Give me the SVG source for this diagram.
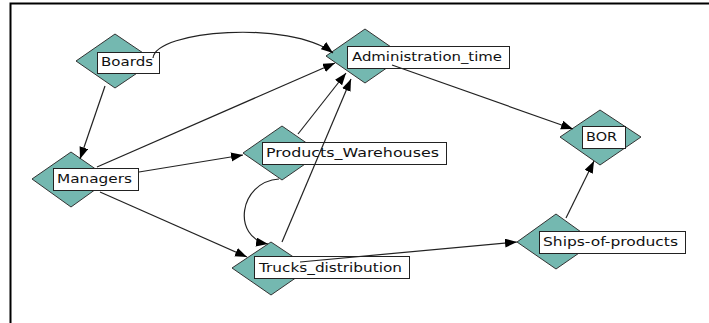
<svg xmlns="http://www.w3.org/2000/svg" width="709" height="323" viewBox="0 0 709 323">
<style>
.dia{fill:#74b8b0;stroke:#333;stroke-width:1}
.lbl{fill:#fff;stroke:#222;stroke-width:1}
.txt{font-family:"DejaVu Sans",Verdana,sans-serif;font-size:13px;fill:#111}
.edge{fill:none;stroke:#222;stroke-width:1.2}
</style>
<defs>
<marker id="arr" markerUnits="userSpaceOnUse" markerWidth="13" markerHeight="10" refX="12" refY="4.5" orient="auto">
<path d="M0,0 L12,4.5 L0,9 z" fill="#000"/>
</marker>
</defs>
<rect x="0" y="0" width="709" height="323" fill="#fff"/>
<path d="M10.5,323 L10.5,3.5 L709,3.5" fill="none" stroke="#000" stroke-width="2"/>

<g id="Boards">
<polygon class="dia" points="115,34 155,61 115,88 76,61"/>
<rect class="lbl" x="97.5" y="52.5" width="62" height="21"/>
<text class="txt" x="101" y="66" textLength="52" lengthAdjust="spacingAndGlyphs">Boards</text>
</g>
<g id="Administration_time">
<polygon class="dia" points="365,29 404,56 365,83 326,56"/>
<rect class="lbl" x="347.5" y="46.5" width="162" height="22"/>
<text class="txt" x="352" y="61" textLength="150" lengthAdjust="spacingAndGlyphs">Administration_time</text>
</g>
<g id="BOR">
<polygon class="dia" points="600,110 641,137 600,165 560,137"/>
<rect class="lbl" x="582.5" y="126.5" width="43" height="22"/>
<text class="txt" x="586" y="141" textLength="31" lengthAdjust="spacingAndGlyphs">BOR</text>
</g>
<g id="Managers">
<polygon class="dia" points="71,152 110,179 71,207 32,179"/>
<rect class="lbl" x="53.5" y="168.5" width="85" height="22"/>
<text class="txt" x="57" y="183" textLength="75" lengthAdjust="spacingAndGlyphs">Managers</text>
</g>
<g id="Products_Warehouses">
<polygon class="dia" points="282,126 321,153 282,180 243,153"/>
<rect class="lbl" x="262.5" y="142.5" width="184" height="22"/>
<text class="txt" x="266" y="157" textLength="173" lengthAdjust="spacingAndGlyphs">Products_Warehouses</text>
</g>
<g id="Trucks_distribution">
<polygon class="dia" points="271,242 310,268 271,295 232,268"/>
<rect class="lbl" x="254.5" y="256.5" width="155" height="22"/>
<text class="txt" x="259" y="272" textLength="143" lengthAdjust="spacingAndGlyphs">Trucks_distribution</text>
</g>
<g id="Ships-of-products">
<polygon class="dia" points="556,214 595,242 556,269 517,242"/>
<rect class="lbl" x="539.5" y="231.5" width="146" height="22"/>
<text class="txt" x="543" y="246" textLength="135" lengthAdjust="spacingAndGlyphs">Ships-of-products</text>
</g>

<g id="connectors">
<path class="edge" d="M153,58 C156,30 290,20 333,53" marker-end="url(#arr)"/>
<path class="edge" d="M105,86 L80,159" marker-end="url(#arr)"/>
<path class="edge" d="M97,167 L335,63" marker-end="url(#arr)"/>
<path class="edge" d="M139,172 L243,155" marker-end="url(#arr)"/>
<path class="edge" d="M100,192 L247,257" marker-end="url(#arr)"/>
<path class="edge" d="M298,134 L346,73" marker-end="url(#arr)"/>
<path class="edge" d="M282,242 L351,79" marker-end="url(#arr)"/>
<path class="edge" d="M279,179 C238,182 232,238 268,244" marker-end="url(#arr)"/>
<path class="edge" d="M300,262 L517,242" marker-end="url(#arr)"/>
<path class="edge" d="M392,65 L573,129" marker-end="url(#arr)"/>
<path class="edge" d="M566,218 L594,161" marker-end="url(#arr)"/>
</g>
</svg>
